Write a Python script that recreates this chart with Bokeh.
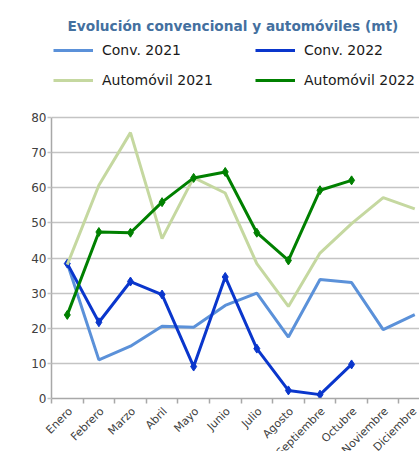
from bokeh.plotting import figure
from bokeh.models import FixedTicker, Legend, LegendItem, Range1d
from bokeh.embed import file_html
from bokeh.resources import INLINE

months = ["Enero", "Febrero", "Marzo", "Abril", "Mayo", "Junio", "Julio",
          "Agosto", "Septiembre", "Octubre", "Noviembre", "Diciembre"]
conv_2021 = [38.5, 11.0, 14.9, 20.6, 20.3, 26.5, 30.0, 17.5, 33.9, 33.0, 19.6, 23.9]
conv_2022 = [38.4, 21.7, 33.3, 29.6, 9.1, 34.6, 14.2, 2.3, 1.1, 9.7]
auto_2021 = [38.1, 60.7, 75.7, 45.5, 62.9, 58.5, 38.4, 26.2, 41.4, 49.8, 57.2, 54.0]
auto_2022 = [23.8, 47.4, 47.2, 55.9, 62.8, 64.5, 47.2, 39.3, 59.3, 62.1]
y_ticks = [0, 10, 20, 30, 40, 50, 60, 70, 80]

xc = [i + 0.5 for i in range(len(months))]
label_pos = [round(x + 0.1, 2) for x in xc]   # rotated labels sit slightly right of centre
FH = 365                      # frame height incl. legend area above the 80 line
YMAX = 80 * FH / 281.0

p = figure(frame_width=368, frame_height=FH, x_range=Range1d(0, 11.65), y_range=Range1d(0, YMAX),
           output_backend="svg", toolbar_location=None,
           min_border_left=51, min_border_right=0, min_border_top=33, min_border_bottom=0)
p.outline_line_color = None
p.background_fill_color = "white"

p.title.text = "Evolución convencional y automóviles (mt)"
p.title.text_font = "DejaVu Sans"
p.title.text_font_size = "13.7px"
p.title.text_font_style = "bold"
p.title.text_color = "#44709f"
p.title.align = "left"
p.title.offset = 16
p.title.standoff = 0

r_c21 = p.line(xc, conv_2021, line_color="#5b91d9", line_width=3)
r_c22 = p.line(xc[:len(conv_2022)], conv_2022, line_color="#0a36cc", line_width=3)
p.scatter(xc[:len(conv_2022)], conv_2022, marker="diamond", size=9, color="#0a36cc")
r_a21 = p.line(xc, auto_2021, line_color="#c5d8a0", line_width=3)
r_a22 = p.line(xc[:len(auto_2022)], auto_2022, line_color="#008000", line_width=3)
p.scatter(xc[:len(auto_2022)], auto_2022, marker="diamond", size=9, color="#008000")

def make_legend(items, loc):
    lg = Legend(items=items, orientation="horizontal", location=loc)
    lg.label_text_font = "DejaVu Sans"
    lg.label_text_font_size = "14px"
    lg.label_text_color = "#1a1a1a"
    lg.glyph_width = 40
    lg.glyph_height = 20
    lg.label_height = 20
    lg.label_width = 150
    lg.label_standoff = 9
    lg.spacing = 3
    lg.padding = 0
    lg.margin = 0
    lg.border_line_color = None
    lg.background_fill_alpha = 0
    return lg

lg1 = make_legend([LegendItem(label="Conv. 2021", renderers=[r_c21]),
                   LegendItem(label="Conv. 2022", renderers=[r_c22])], (2, 338))
lg2 = make_legend([LegendItem(label="Automóvil 2021", renderers=[r_a21]),
                   LegendItem(label="Automóvil 2022", renderers=[r_a22])], (2, 308))
p.add_layout(lg1)
p.add_layout(lg2)

# axes
p.yaxis.ticker = FixedTicker(ticks=y_ticks)
p.yaxis.bounds = (y_ticks[0], y_ticks[-1])
p.ygrid.ticker = FixedTicker(ticks=y_ticks)
p.ygrid.grid_line_color = "#c4c4c4"
p.ygrid.grid_line_width = 1.5
p.xgrid.visible = False
p.yaxis.axis_line_color = "#a8a8a8"
p.yaxis.axis_line_width = 1.5
p.yaxis.major_tick_line_color = "#c4c4c4"
p.yaxis.major_tick_line_width = 1.5
p.yaxis.major_tick_out = 4
p.yaxis.major_tick_in = 0
p.yaxis.minor_tick_line_color = None
p.yaxis.major_label_standoff = 1
p.yaxis.major_label_text_font = "DejaVu Sans"
p.yaxis.major_label_text_font_size = "12px"
p.yaxis.major_label_text_color = "#404040"

p.xaxis.ticker = FixedTicker(ticks=label_pos, minor_ticks=list(range(len(months) + 1)))
p.xaxis.major_label_overrides = {label_pos[i]: months[i] for i in range(len(months))}
p.xaxis.major_label_orientation = 0.785398
p.xaxis.major_tick_line_color = None
p.xaxis.major_tick_out = 0
p.xaxis.major_tick_in = 0
p.xaxis.minor_tick_line_color = "#a8a8a8"
p.xaxis.minor_tick_line_width = 1.5
p.xaxis.minor_tick_out = 5
p.xaxis.minor_tick_in = 0
p.xaxis.axis_line_color = "#a8a8a8"
p.xaxis.axis_line_width = 1.5
p.xaxis.major_label_standoff = 6
p.xaxis.major_label_text_font = "DejaVu Sans"
p.xaxis.major_label_text_font_size = "11px"
p.xaxis.major_label_text_color = "#404040"

open("out.html", "w").write(file_html(p, INLINE))
